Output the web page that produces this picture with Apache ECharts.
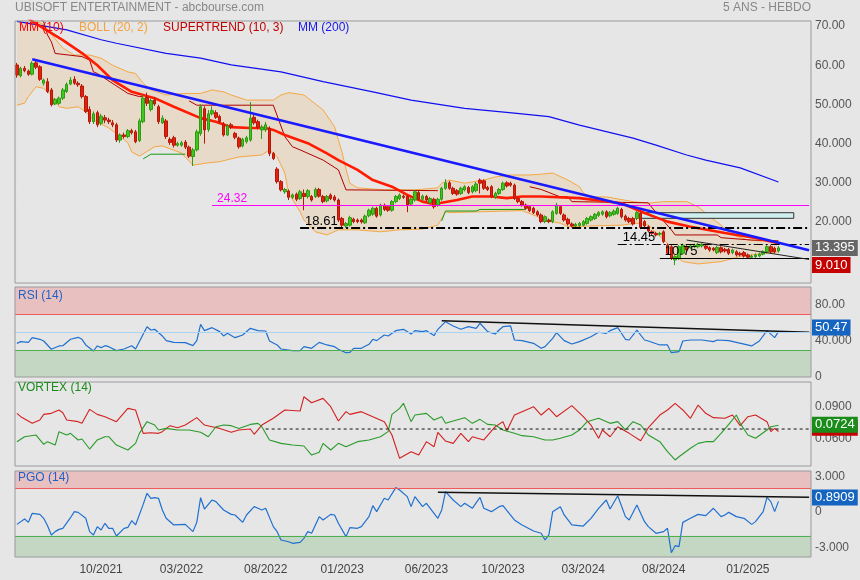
<!DOCTYPE html>
<html><head><meta charset="utf-8">
<script src="https://cdn.jsdelivr.net/npm/echarts@6/dist/echarts.min.js"></script>
<style>html,body{margin:0;padding:0;background:#e6e6e6}#c{width:860px;height:580px}</style>
</head><body><div id="c"></div>
<script>
// ---------- DATA (weekly, index = week number) ----------
const weeks = 208;
const categories = Array.from({length: weeks}, (_, i) => 'S' + i);
const tickLabels = [[22,'10/2021'],[43,'03/2022'],[65,'08/2022'],[85,'01/2023'],[107,'06/2023'],[127,'10/2023'],[148,'03/2024'],[169,'08/2024'],[191,'01/2025']];

// [open, close, low, high]
const candles = [
[60.05,57.5,56.8,60.6],[57.3,59.2,56.9,59.6],[59.2,58.6,58.2,59.8],[58.5,57.7,57.3,58.9],[57.7,60.5,57.4,61.0],
[60.6,59.5,59.0,61.4],[59.6,56.4,56.0,60.0],[55.4,56.2,54.8,56.6],[55.8,53.3,52.9,56.7],[53.7,49.9,49.5,54.2],
[50.1,51.3,49.8,51.6],[50.3,51.6,49.9,52.0],[51.6,53.7,51.1,54.2],[53.3,55.1,52.9,55.6],[55.2,56.2,54.9,57.0],
[56.4,55.4,55.0,57.2],[55.4,55.0,54.5,55.9],[54.7,52.0,51.5,55.2],[52.0,48.2,47.8,52.4],[48.7,45.6,45.0,49.5],
[45.6,47.6,45.0,48.2],[47.9,44.8,44.2,48.4],[45.2,47.0,44.6,47.6],[46.6,46.0,45.2,47.3],[46.0,45.6,45.0,46.6],
[45.3,44.8,44.2,46.0],[44.8,40.9,40.4,45.3],[40.9,42.2,40.2,42.6],[42.2,41.8,41.3,42.8],[41.8,43.3,41.4,43.7],
[43.3,42.8,42.3,43.8],[43.0,40.5,40.1,43.5],[40.8,45.8,40.4,46.4],[45.6,51.6,45.2,52.4],[51.8,50.3,49.6,53.0],
[48.7,51.0,48.2,51.5],[51.1,50.1,49.6,51.9],[49.4,45.6,45.0,49.9],[45.3,46.5,45.0,47.2],[45.8,41.8,41.2,46.3],
[41.1,40.3,39.7,41.6],[41.5,39.6,39.0,42.0],[39.6,40.0,39.2,40.5],[39.6,40.2,39.2,40.7],[40.4,39.1,38.6,40.9],
[39.1,36.8,36.3,39.5],[36.7,38.4,34.3,38.9],[38.4,43.0,38.0,43.6],[42.6,49.4,42.0,50.0],[48.9,43.5,40.0,49.5],
[43.6,47.6,43.0,48.6],[47.6,48.4,47.2,49.5],[47.9,46.7,46.3,48.5],[46.9,45.6,45.2,47.4],[45.0,42.2,41.8,45.5],
[42.2,44.5,41.9,45.0],[44.8,44.2,43.7,45.3],[42.6,41.6,41.1,43.0],[41.4,39.2,38.7,41.8],[39.4,41.1,39.0,41.5],
[40.5,41.5,40.0,42.0],[40.9,46.5,40.5,50.6],[46.7,45.3,44.8,47.3],[45.6,44.2,43.6,46.1],[43.5,44.2,41.2,44.8],
[43.5,44.8,43.0,45.5],[43.9,37.5,36.8,44.4],[37.5,36.2,35.8,37.9],[33.5,30.3,29.8,34.0],[30.3,28.2,27.8,30.7],
[27.7,28.3,27.2,28.7],[27.9,26.3,25.6,28.3],[26.3,26.9,25.9,27.3],[27.1,25.8,25.3,27.5],[26.0,27.7,25.6,28.2],
[27.3,26.5,23.0,28.3],[26.5,28.0,26.0,28.4],[26.5,25.6,25.2,26.9],[26.5,28.3,26.1,28.8],[28.3,26.6,26.2,28.7],
[26.5,25.2,24.8,26.9],[25.4,26.5,25.0,26.9],[26.9,26.0,25.6,27.3],[26.4,25.6,25.2,26.9],[25.6,20.5,20.0,26.0],
[20.9,19.2,18.7,21.3],[19.0,19.6,18.5,20.0],[19.2,21.1,18.8,21.6],[20.7,20.1,19.7,21.1],[20.5,20.1,19.7,20.9],
[20.5,20.0,19.6,20.9],[19.8,21.5,19.5,21.9],[21.6,23.0,21.2,23.4],[22.0,23.5,21.6,23.9],[23.5,21.5,21.1,23.9],
[21.8,24.3,21.4,24.7],[24.3,23.2,22.8,24.7],[23.9,23.0,22.6,24.3],[23.0,25.2,22.6,25.6],[25.2,26.5,24.8,26.9],
[26.0,26.9,25.6,27.3],[26.6,26.3,25.9,27.0],[26.5,24.3,22.5,26.9],[24.6,25.8,24.2,26.2],[25.6,27.7,25.2,28.2],
[27.5,25.8,25.4,27.9],[25.8,26.6,25.4,27.0],[26.5,25.6,25.2,26.9],[24.9,26.0,24.5,26.4],[25.8,23.9,23.4,26.2],
[24.3,25.8,23.9,26.2],[25.8,28.6,25.4,29.0],[28.6,30.0,28.2,30.9],[30.0,28.6,28.2,30.5],[28.6,27.3,26.9,29.0],
[28.0,27.1,26.7,28.4],[27.3,28.6,26.9,29.0],[28.2,29.0,27.8,29.4],[28.8,27.5,27.1,29.2],[27.7,29.0,27.3,29.4],
[28.0,29.7,27.6,30.2],[30.7,29.9,27.3,31.1],[30.5,28.6,28.2,30.9],[28.8,28.3,27.9,29.2],[29.0,26.5,26.1,29.4],
[26.3,27.3,25.9,27.7],[27.3,28.3,26.9,28.7],[28.3,29.9,27.9,30.3],[30.0,29.2,28.8,30.4],[29.9,29.4,29.0,30.3],
[29.4,26.0,25.6,29.8],[26.0,25.2,24.8,26.4],[25.2,24.3,23.9,25.6],[24.3,23.5,23.1,24.7],[23.9,22.9,22.5,24.3],
[23.5,22.4,22.0,23.9],[22.6,21.8,21.4,23.0],[21.8,20.1,19.7,22.2],[20.1,21.35,19.7,21.7],[20.5,20.1,19.7,20.9],
[20.1,22.6,19.7,23.0],[22.2,24.3,21.8,24.9],[23.9,22.2,21.8,24.3],[21.8,20.5,20.1,22.2],[20.7,19.5,19.1,21.1],
[19.5,19.0,18.6,19.9],[19.0,19.4,18.6,19.8],[19.1,19.65,18.8,20.0],[19.2,20.1,18.9,20.5],[19.65,20.9,19.3,21.3],
[20.5,21.35,20.1,21.7],[20.9,21.95,20.5,22.3],[21.7,22.4,21.3,22.8],[22.0,22.6,21.6,23.0],[22.6,21.35,20.9,23.0],
[21.6,22.4,21.2,22.8],[21.95,22.8,21.6,23.2],[22.2,23.5,21.8,23.9],[23.2,21.35,20.9,23.6],[21.5,20.5,20.1,21.9],
[20.9,20.1,19.7,21.3],[20.9,19.5,19.1,21.3],[20.9,22.4,20.5,22.8],[22.2,18.6,18.2,22.6],[20.1,19.0,18.4,20.5],
[18.8,17.7,17.3,19.2],[17.5,17.1,16.7,17.9],[17.1,16.7,16.3,17.5],[16.9,17.1,16.5,17.5],[17.5,15.0,14.6,17.9],
[14.1,12.0,11.6,14.5],[13.7,10.7,10.3,14.1],[10.3,11.15,9.0,11.5],[10.7,13.7,10.3,14.1],[12.0,14.1,11.6,14.5],
[13.7,12.85,12.4,14.1],[13.5,13.9,13.1,14.2],[13.7,14.1,13.3,14.5],[13.7,14.3,13.3,14.7],[13.9,14.3,13.5,14.6],
[13.9,13.3,12.9,14.3],[13.45,12.85,12.4,13.8],[13.3,12.85,12.5,13.6],[12.2,13.5,11.8,13.9],[13.45,12.4,12.0,13.8],
[13.0,12.6,12.2,13.4],[13.0,12.0,11.6,13.4],[12.2,12.85,11.8,13.2],[12.4,11.6,11.2,12.8],[12.0,11.6,11.2,12.4],
[12.2,11.3,10.9,12.6],[11.6,11.0,10.6,12.0],[11.0,11.3,10.7,11.7],[11.15,11.6,10.8,12.0],[11.3,11.8,11.0,12.2],
[11.8,12.4,11.5,12.8],[12.4,13.7,12.0,14.1],[13.7,12.4,12.0,14.1],[13.3,12.4,12.0,13.7],[12.6,13.4,12.2,13.9]
];

// overlay lines, [week, value]
const mm10 = [[3,72.0],[4,71.2],[12,66.4],[17,63.1],[21,60.0],[25,56.2],[30,53.2],[36,51.6],[41,49.4],[48,46.5],[52,45.6],[56,44.2],[61,44.0],[65,44.0],[67,43.5],[70,42.2],[76,40.1],[81,37.5],[84,35.8],[89,33.3],[93,30.7],[98,29.0],[102,26.9],[106,25.2],[109,24.6],[111,24.9],[115,25.6],[119,26.5],[124,26.5],[128,26.1],[132,26.5],[137,26.5],[147,26.1],[158,24.8],[164,22.3],[170,20.1],[176,18.8],[185,17.2],[193,15.9],[199,14.6]];
const mm200 = [[0,71.2],[13,69.0],[22,66.5],[26,65.6],[39,63.0],[48,61.8],[56,60.1],[69,58.3],[80,55.8],[93,53.2],[103,51.1],[117,49.0],[130,47.8],[139,46.9],[147,44.7],[161,41.4],[167,39.6],[175,37.1],[180,35.8],[189,33.8],[199,30.2]];
const bollUpper = [[0,74],[7,70.3],[12,64.4],[15,62.6],[19,62.6],[22,61.8],[25,60.0],[29,58.3],[31,57.9],[33,55.4],[35,53.7],[39,52.4],[44,52.8],[48,52.8],[51,53.7],[54,53.2],[56,52.4],[60,51.1],[67,51.1],[69,52.4],[71,53.0],[75,52.4],[80,48.6],[83,44.3],[85,37.6],[86,33.5],[87,29.9],[89,28.7],[96,28.2],[104,28.2],[110,28.7],[111,29.9],[113,30.7],[117,29.9],[122,30.7],[125,31.5],[129,32.0],[134,32.0],[137,32.2],[140,32.5],[144,30.7],[147,29.0],[148,27.4],[150,26.4],[154,26.4],[161,25.2],[165,24.8],[169,25.2],[175,25.2],[178,23.9],[181,21.4],[184,19.2],[187,16.7],[191,15.4],[197,15.0],[199,15.0]];
const bollLower = [[0,49.8],[2,50.3],[3,52.0],[5,54.5],[7,54.1],[9,52.4],[11,49.4],[13,49.0],[16,49.4],[18,48.1],[20,46.0],[24,44.0],[27,41.8],[29,40.2],[30,37.9],[32,36.8],[36,39.2],[38,39.4],[43,37.6],[46,34.5],[50,35.1],[53,35.4],[58,36.6],[64,37.1],[66,38.4],[68,36.6],[70,32.5],[71,27.4],[74,22.6],[75,20.5],[78,17.5],[81,16.7],[84,18.0],[89,18.0],[95,17.5],[100,18.0],[106,18.2],[110,19.2],[112,22.6],[113,22.4],[132,22.9],[136,21.4],[137,20.5],[142,19.7],[144,18.8],[150,19.0],[158,19.2],[162,19.7],[165,19.2],[167,17.2],[170,14.6],[171,12.1],[174,9.9],[178,9.3],[184,9.9],[189,11.2],[196,12.1],[199,12.4]];
const stBearA = [[5,72.5],[7,71.1],[8,67.7],[9,66.0],[10,63.0],[17,62.2],[19,61.3],[20,58.3],[21,57.9],[29,52.8],[32,52.0],[33,52.0]];
const stBullA = [[33,36.1],[35,37.3],[44,37.3]];
const stBearB = [[45,50.9],[47,49.8],[67,49.8],[70,41.8],[72,39.2],[74,38.4],[80,35.8],[84,33.3],[86,28.2],[110,28.0]];
const stBullB = [[111,20.3],[112,22.8],[120,22.8],[121,23.2],[133,23.2]];
const stBearC = [[134,29.0],[137,28.3],[142,26.4],[144,26.4],[145,25.2],[165,24.9],[166,23.6],[171,18.0],[172,16.7],[183,16.7],[184,16.0],[192,15.4],[199,15.2]];
const trendMain = [[4,61.5],[207,12.8]];
const wedgeLine = [[175,15.4],[207,10.45]];
const levels = [
  {v:24.32, from:51, color:'#ff00ff', width:1, type:'solid', fs:12},
  {v:18.61, from:74, color:'#000000', width:2, type:[9,3,2,3], fs:13},
  {v:14.45, from:157, color:'#000000', width:1, type:[9,3,2,3], fs:13},
  {v:10.75, from:168, color:'#000000', width:1, type:'solid', fs:13}
];
const zoneBox = [[163,22.37],[203,20.94]];
const lastPrice = 13.395, lastSuper = 9.010;

const rsi = [[0,37.4],[1,39.3],[3,38.5],[4,43.7],[6,41.9],[7,40],[9,30.8],[11,34.5],[12,34.8],[14,41.9],[16,44.1],[17,41.9],[18,35.6],[20,28.9],[21,34.5],[22,32.6],[23,34.8],[24,33.7],[26,29.3],[28,31.1],[30,34.8],[31,31.1],[34,55.9],[35,52.2],[36,53],[38,45.6],[39,40.4],[41,38.5],[44,38.2],[46,34.8],[47,40.4],[48,58.5],[49,51.5],[51,54.8],[53,50.4],[54,45.6],[55,48.5],[57,43.7],[59,46.7],[61,54.1],[63,51.5],[65,51.1],[66,40],[68,35.6],[69,31.1],[72,29.3],[74,29.3],[75,33.7],[77,31.9],[79,38.5],[81,35.6],[83,33.7],[84,30.8],[86,27],[87,27.4],[88,31.9],[90,31.9],[92,36.3],[93,41.9],[94,40.4],[96,46.7],[97,45.6],[99,51.5],[101,53],[103,47.8],[104,51.5],[106,50.4],[107,51.5],[109,46],[110,53],[112,61.5],[114,56.7],[116,53],[118,55.9],[120,54.1],[121,59.7],[123,50.4],[125,47.8],[126,52.2],[127,55.9],[129,56.7],[130,41.1],[132,40.4],[135,37.4],[137,31.9],[138,33.7],[140,43],[141,49.3],[143,40.4],[145,36.7],[147,39.3],[150,44.8],[152,49.7],[154,48.5],[155,51.5],[157,54.8],[159,41.9],[160,41.1],[162,52.2],[164,41.1],[165,40],[168,35.6],[170,35.6],[171,27],[173,28.1],[174,40],[176,41.1],[179,41.1],[182,39.3],[183,41.1],[186,40.4],[188,38.5],[192,34.5],[194,40],[196,51.5],[198,43.7],[199,50.47]];
const rsiTrend = [[111,62.6],[207,49.7]];

const viMinus = [[0,0.0837],[1,0.0805],[4,0.0742],[6,0.0774],[7,0.0827],[9,0.0837],[11,0.0869],[12,0.0843],[13,0.0774],[16,0.0758],[17,0.0742],[19,0.0875],[21,0.0827],[23,0.0805],[26,0.0758],[29,0.0884],[31,0.0869],[33,0.0647],[35,0.0653],[37,0.0647],[38,0.0663],[40,0.0720],[42,0.0701],[44,0.0726],[47,0.0796],[49,0.0726],[51,0.0710],[53,0.0694],[56,0.0657],[58,0.0679],[61,0.0688],[62,0.0638],[64,0.0726],[67,0.0790],[70,0.0869],[74,0.0859],[75,0.0995],[77,0.0938],[80,0.0979],[82,0.0900],[84,0.0764],[86,0.0853],[87,0.0827],[90,0.0853],[93,0.0805],[96,0.0758],[98,0.0631],[100,0.0410],[103,0.0473],[105,0.0441],[107,0.0568],[109,0.0520],[110,0.0657],[112,0.0574],[114,0.0552],[116,0.0647],[118,0.0568],[119,0.0615],[122,0.0584],[125,0.0710],[127,0.0758],[128,0.0669],[130,0.0821],[132,0.0853],[135,0.0900],[137,0.0821],[139,0.0884],[141,0.0805],[145,0.0910],[148,0.0805],[150,0.0726],[152,0.0600],[153,0.0679],[155,0.0615],[157,0.0710],[160,0.0647],[163,0.0577],[165,0.0701],[168,0.0821],[170,0.0869],[172,0.0932],[174,0.0869],[176,0.0790],[178,0.0916],[180,0.0837],[182,0.0796],[185,0.0790],[187,0.0821],[189,0.0720],[191,0.0805],[193,0.0821],[196,0.0758],[197,0.0663],[198,0.0694],[199,0.0665]];
const viPlus = [[0,0.0568],[2,0.0615],[5,0.0631],[7,0.0543],[8,0.0568],[10,0.0536],[11,0.0663],[13,0.0631],[14,0.0647],[16,0.0584],[17,0.0593],[19,0.0498],[21,0.0584],[23,0.0615],[24,0.0615],[26,0.0536],[29,0.0489],[31,0.0552],[32,0.0647],[34,0.0758],[36,0.0726],[37,0.0679],[39,0.0694],[42,0.0679],[45,0.0679],[48,0.0657],[50,0.0615],[52,0.0710],[54,0.0726],[56,0.0720],[58,0.0694],[61,0.0732],[63,0.0742],[64,0.0710],[66,0.0584],[69,0.0552],[72,0.0536],[75,0.0527],[77,0.0441],[79,0.0467],[80,0.0552],[82,0.0489],[84,0.0552],[86,0.0520],[89,0.0568],[92,0.0584],[95,0.0615],[97,0.0663],[98,0.0827],[100,0.0884],[101,0.0932],[103,0.0758],[104,0.0821],[107,0.0837],[109,0.0774],[111,0.0805],[112,0.0742],[114,0.0764],[117,0.0796],[119,0.0742],[121,0.0780],[123,0.0732],[125,0.0726],[127,0.0679],[130,0.0647],[132,0.0625],[135,0.0615],[138,0.0584],[140,0.0584],[142,0.0600],[145,0.0631],[147,0.0679],[149,0.0758],[152,0.0790],[155,0.0742],[157,0.0758],[159,0.0679],[161,0.0758],[163,0.0726],[165,0.0631],[168,0.0568],[170,0.0473],[172,0.0394],[173,0.0425],[176,0.0505],[178,0.0552],[180,0.0568],[182,0.0568],[184,0.0647],[186,0.0732],[188,0.0821],[189,0.0742],[191,0.0631],[193,0.0600],[196,0.0679],[197,0.0710],[199,0.0724]];
const viLevel = 0.0688;

const pgo = [[0,-1.04],[2,-0.59],[3,-0.87],[4,-0.11],[6,-0.2],[7,-0.53],[8,-1.15],[9,-1.93],[10,-1.65],[11,-1.46],[12,-1.37],[14,-0.48],[15,0.03],[16,-0.03],[18,-0.53],[19,-1.65],[20,-1.93],[21,-1.23],[22,-1.51],[23,-0.95],[24,-1.37],[25,-1.37],[26,-2.02],[28,-1.37],[29,-1.29],[30,-0.73],[31,-1.09],[33,0.64],[34,1.57],[35,1.15],[36,1.2],[37,1.15],[38,0.17],[39,-0.53],[41,-1.09],[44,-1.04],[46,-1.65],[47,-0.87],[48,1.2],[49,0.25],[51,1.01],[52,0.87],[54,0.17],[56,-0.2],[57,-0.25],[59,-0.87],[60,-0.25],[62,0.45],[63,0.31],[64,0.17],[65,0.31],[67,-1.23],[68,-1.65],[69,-2.35],[71,-2.5],[72,-2.63],[74,-2.55],[75,-2.21],[76,-1.65],[77,-1.79],[79,-0.39],[80,-0.67],[82,-0.2],[83,-0.25],[84,-0.95],[86,-2.07],[87,-1.32],[89,-1.37],[90,-1.23],[92,-0.39],[93,0.53],[94,0.03],[96,1.15],[97,1.01],[99,2.05],[100,1.85],[102,1.29],[103,0.45],[104,1.29],[106,0.45],[107,0.73],[110,-0.53],[111,0.17],[112,1.71],[114,1.01],[116,0.45],[117,0.73],[119,0.31],[121,1.23],[122,0.31],[124,0.03],[126,0.45],[127,0.53],[130,-0.67],[132,-1.09],[135,-1.6],[137,-1.79],[138,-2.35],[139,-1.93],[140,0.03],[142,0.45],[143,-0.25],[145,-1.09],[148,-1.18],[150,-0.53],[152,0.31],[154,1.01],[155,0.25],[157,1.37],[159,-0.39],[160,-0.67],[162,0.59],[164,-0.81],[165,-1.23],[167,-1.79],[169,-1.65],[170,-1.37],[171,-3.42],[172,-2.83],[173,-2.91],[174,-0.87],[176,-0.53],[178,-0.2],[180,-0.31],[182,0.31],[184,-0.39],[185,-0.25],[186,-0.03],[188,-0.39],[190,-0.53],[192,-1.04],[193,-0.81],[195,0.03],[196,1.23],[197,0.87],[198,0.03],[199,0.8909]];
const pgoTrend = [[110,1.65],[207,1.23]];

const mainTicks = [[20,'20.000'],[30,'30.000'],[40,'40.000'],[50,'50.000'],[60,'60.00'],[70,'70.00']];
const rsiTicks = [[0,'0'],[40,'40.000'],[80,'80.00']];
const viTicks = [[0.06,'0.0600'],[0.09,'0.0900']];
const pgoTicks = [[-3,'-3.000'],[0,'0'],[3,'3.000']];

// ---------- CHART ----------
const FONT = '"Liberation Sans", Arial, sans-serif';
const BG = '#e6e6e6';
const tickMap = Object.fromEntries(tickLabels);
function yAx(grid, min, max, ticks, pad) {
  const m = new Map(ticks.map(t => [t[0], t[1]]));
  return {type:'value', gridIndex:grid, position:'right', min:min, max:max, scale:true,
    axisLine:{show:false}, axisTick:{show:false}, splitLine:{show:false},
    axisLabel:{customValues:ticks.map(t=>t[0]), formatter:v=>{for (const [k,s] of m) if (Math.abs(k-v)<1e-9) return s; return '';},
      color:'#555', fontSize:12, fontFamily:FONT, margin:4, padding:pad||0}};
}
function xAx(grid, showLabels) {
  return {type:'category', gridIndex:grid, data:categories, boundaryGap:true,
    axisLine:{show:false}, axisTick:{show:false}, splitLine:{show:false},
    axisLabel: showLabels ? {interval:(i)=>tickMap[i]!==undefined, formatter:(v,i)=>tickMap[i]||'', color:'#444', fontSize:12, fontFamily:FONT, margin:7} : {show:false}};
}
function gridBox(top, height) {
  return {left:15, right:49, top:top, height:height, show:true, borderColor:'#9a9a9a', borderWidth:1, backgroundColor:'transparent', z:20};
}
function line(name, data, color, width, xi, z, extra) {
  return Object.assign({name:name, type:'line', data:data, xAxisIndex:xi, yAxisIndex:xi, symbol:'none', silent:true,
    lineStyle:{color:color, width:width}, z:z||3}, extra||{});
}
function valBox(val, text, bg, off) {
  return {yAxis:val, lineStyle:{width:0, color:'rgba(0,0,0,0)', opacity:1},
    label:{show:true, position:'end', distance:1, color:'#fff', opacity:1, fontSize:13, fontFamily:FONT,
    padding:[2,3,1,3], formatter:text, backgroundColor:bg, offset:[0, off||0]}};
}
const boxLine = (items) => ({symbol:['none','none'], silent:true, z:30, data:items});

const levelLines = levels.map(l => [
  {coord:[l.from, l.v], lineStyle:{color:l.color, width:l.width, type:l.type},
   label:{show:true, position:'insideStartTop', formatter:l.v.toFixed(2), color:l.color, fontSize:l.fs, fontFamily:FONT, distance:[5,0]}},
  {coord:[207, l.v]}
]);

const option = {
  animation:false,
  backgroundColor:BG,
  grid:[gridBox(21,262), gridBox(287,90), gridBox(382,84), gridBox(471,86)],
  xAxis:[xAx(0,false), xAx(1,false), xAx(2,false), xAx(3,true)],
  yAxis:[yAx(0,4.44,71.28,mainTicks,[0,0,4,0]), yAx(1,0,100,rsiTicks,[0,0,4,0]), yAx(2,0.03369,0.11346,viTicks), yAx(3,-3.782,3.445,pgoTicks,[0,0,4,0])],
  graphic:[
    {type:'text', left:15, top:2, style:{text:'UBISOFT ENTERTAINMENT - abcbourse.com', fill:'#888', font:'12px '+FONT}},
    {type:'text', right:49, top:2, style:{text:'5 ANS - HEBDO', fill:'#888', font:'12px '+FONT}},
    {type:'text', left:19, top:22, z:50, style:{text:'MM (10)', fill:'#ff0000', font:'12px '+FONT}},
    {type:'text', left:79, top:22, z:50, style:{text:'BOLL (20, 2)', fill:'#f5a23a', font:'12px '+FONT}},
    {type:'text', left:163, top:22, z:50, style:{text:'SUPERTREND (10, 3)', fill:'#c00000', font:'12px '+FONT}},
    {type:'text', left:298, top:22, z:50, style:{text:'MM (200)', fill:'#1515ee', font:'12px '+FONT}},
    {type:'text', left:18, top:290, z:50, style:{text:'RSI (14)', fill:'#1e62c8', font:'12px '+FONT}},
    {type:'text', left:18, top:382, z:50, style:{text:'VORTEX (14)', fill:'#1a8c1a', font:'12px '+FONT}},
    {type:'text', left:18, top:472, z:50, style:{text:'PGO (14)', fill:'#1e62c8', font:'12px '+FONT}}
  ],
  series:[
    line('BOLL haute', bollUpper, '#f5a742', 1, 0, 0, {areaStyle:{color:'rgba(240,186,124,0.38)', origin:'start'}}),
    line('BOLL basse', bollLower, '#f5a742', 1, 0, 0, {areaStyle:{color:BG, opacity:1, origin:'start'}}),
    line('MM (200)', mm200, '#1010f0', 1.2, 0, 3),
    line('ST1', stBearA, '#b00000', 1, 0, 3),
    line('ST2', stBullA, '#129a12', 1, 0, 3),
    line('ST3', stBearB, '#b00000', 1, 0, 3),
    line('ST4', stBullB, '#129a12', 1, 0, 3),
    line('ST5', stBearC, '#b00000', 1, 0, 3),
    line('MM (10)', mm10, '#ff1a00', 2.6, 0, 4),
    {name:'UBISOFT', type:'candlestick', data:candles, xAxisIndex:0, yAxisIndex:0, barWidth:3, z:5, silent:true,
      itemStyle:{color:'#3cc81e', color0:'#e4200c', borderColor:'#2e9a14', borderColor0:'#b5180a', borderWidth:1},
      markArea:{silent:true, z:4, itemStyle:{color:'#cfeeee', borderColor:'#333', borderWidth:1},
        data:[[{coord:zoneBox[0]},{coord:zoneBox[1]}]]},
      markLine:{symbol:['none','none'], silent:true, z:6, data:levelLines}},
    line('Tendance', trendMain, '#1a1aff', 2.6, 0, 7, {markLine:boxLine([valBox(lastSuper,'9.010','#c40000'), valBox(lastPrice,'13.395','#666666')])}),
    line('Biseau', wedgeLine, '#222', 1, 0, 7),

    // RSI
    line('RSI (14)', rsi, '#2070d0', 1.2, 1, 3, {
      markArea:{silent:true, data:[[{yAxis:70, itemStyle:{color:'#e9c0c0'}},{yAxis:100}],[{yAxis:0, itemStyle:{color:'#c3d7c3'}},{yAxis:30}]]},
      markLine:{symbol:['none','none'], silent:true, label:{show:false}, data:[
        {yAxis:70, lineStyle:{color:'#f05a5a', width:1, type:'solid'}},
        {yAxis:30, lineStyle:{color:'#4caf50', width:1, type:'solid'}},
        {yAxis:50, lineStyle:{color:'#a9d3f5', width:1, type:'solid'}}]}}),
    line('RSI tendance', rsiTrend, '#111', 1.5, 1, 4, {markLine:boxLine([valBox(50.47,'50.47','#1565c0',-4)])}),

    // VORTEX
    line('VI-', viMinus, '#d42020', 1.1, 2, 3),
    line('VI+', viPlus, '#2a9a2a', 1.1, 2, 3),
    line('VI niveau', [[65,viLevel],[207,viLevel]], '#111', 1, 2, 4, {lineStyle:{color:'#111', width:1, type:[3,3]},
      markLine:boxLine([valBox(0.0665,'0.0665','#c40000'), valBox(0.0724,'0.0724','#1a8c1a',-3)])}),

    // PGO
    line('PGO (14)', pgo, '#2070d0', 1.2, 3, 3, {
      markArea:{silent:true, data:[[{yAxis:2, itemStyle:{color:'#e9c0c0'}},{yAxis:3.445}],[{yAxis:-3.782, itemStyle:{color:'#c3d7c3'}},{yAxis:-2}]]},
      markLine:{symbol:['none','none'], silent:true, label:{show:false}, data:[
        {yAxis:2, lineStyle:{color:'#f05a5a', width:1, type:'solid'}},
        {yAxis:-2, lineStyle:{color:'#4caf50', width:1, type:'solid'}}]}}),
    line('PGO tendance', pgoTrend, '#111', 1.5, 3, 4, {markLine:boxLine([valBox(0.8909,'0.8909','#1565c0',-4)])})
  ]
};
const chart = echarts.init(document.getElementById('c'));
chart.setOption(option);
</script></body></html>
